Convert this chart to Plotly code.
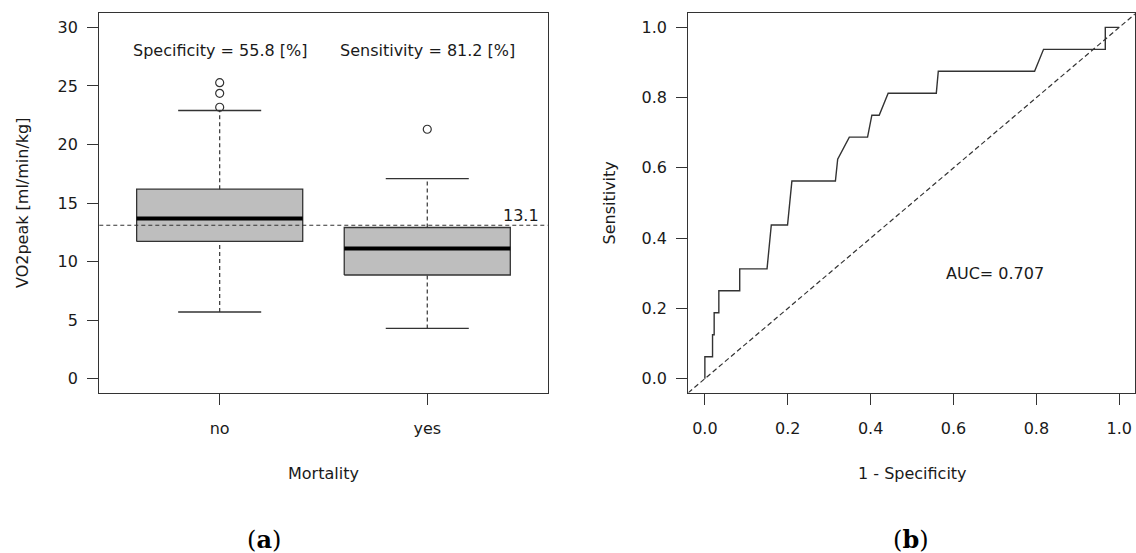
import plotly.graph_objects as go

# ---------------- data ----------------
groups = ["no", "yes"]
group_pos = [1, 2]
q1 = [11.72, 8.85]
median = [13.68, 11.12]
q3 = [16.18, 12.91]
whisker_lo = [5.69, 4.29]
whisker_hi = [22.9, 17.09]
outliers_no = [23.18, 24.37, 25.28]
outliers_yes = [21.3]
cutoff = 13.1
spec_text = "Specificity = 55.8 [%]"
sens_text = "Sensitivity = 81.2 [%]"

roc_fpr = [0, 0, 0.0185, 0.0185, 0.0224, 0.0224, 0.0337, 0.0337, 0.0841, 0.0841,
           0.15, 0.1603, 0.1995, 0.21, 0.315, 0.3205, 0.3486, 0.3926, 0.403, 0.4207,
           0.4423, 0.5585, 0.5633, 0.7957, 0.8173, 0.9663, 0.9663, 1.0]
roc_tpr = [0, 0.0625, 0.0625, 0.125, 0.125, 0.1875, 0.1875, 0.25, 0.25, 0.3125,
           0.3125, 0.4375, 0.4375, 0.5625, 0.5625, 0.625, 0.6875, 0.6875, 0.75, 0.75,
           0.8125, 0.8125, 0.875, 0.875, 0.9375, 0.9375, 1.0, 1.0]
auc_text = "AUC= 0.707"
roc_ticks = [0.0, 0.2, 0.4, 0.6, 0.8, 1.0]
box_ticks = [0, 5, 10, 15, 20, 25, 30]

# ---------------- styling ----------------
FONT = "DejaVu Sans"
TXT = "#1a1a1a"
LINE = "#333333"
FS = 16
BOX_W = 0.8
CAP_W = 0.4

fig = go.Figure()

# box bodies
bx, by = [], []
for p, a, b in zip(group_pos, q1, q3):
    l, r = p - BOX_W / 2, p + BOX_W / 2
    bx += [l, r, r, l, l, None]
    by += [a, a, b, b, a, None]
fig.add_trace(go.Scatter(x=bx, y=by, mode="lines", fill="toself", fillcolor="#bebebe",
                         line=dict(color=LINE, width=1.3), xaxis="x", yaxis="y",
                         hoverinfo="skip", showlegend=False))
# whiskers (dashed)
wx, wy = [], []
for p, a, b, lo, hi in zip(group_pos, q1, q3, whisker_lo, whisker_hi):
    wx += [p, p, None, p, p, None]
    wy += [b, hi, None, lo, a, None]
fig.add_trace(go.Scatter(x=wx, y=wy, mode="lines", line=dict(color=LINE, width=1.2, dash="4px,3px"),
                         xaxis="x", yaxis="y", hoverinfo="skip", showlegend=False))
# caps
cx, cy = [], []
for p, lo, hi in zip(group_pos, whisker_lo, whisker_hi):
    cx += [p - CAP_W / 2, p + CAP_W / 2, None, p - CAP_W / 2, p + CAP_W / 2, None]
    cy += [hi, hi, None, lo, lo, None]
fig.add_trace(go.Scatter(x=cx, y=cy, mode="lines", line=dict(color=LINE, width=1.3),
                         xaxis="x", yaxis="y", hoverinfo="skip", showlegend=False))
# medians
mx, my = [], []
for p, m in zip(group_pos, median):
    mx += [p - BOX_W / 2, p + BOX_W / 2, None]
    my += [m, m, None]
fig.add_trace(go.Scatter(x=mx, y=my, mode="lines", line=dict(color="black", width=4),
                         xaxis="x", yaxis="y", hoverinfo="skip", showlegend=False))
# outliers
ox = [group_pos[0]] * len(outliers_no) + [group_pos[1]] * len(outliers_yes)
oy = outliers_no + outliers_yes
fig.add_trace(go.Scatter(x=ox, y=oy, mode="markers",
                         marker=dict(symbol="circle-open", size=8, color=LINE, line=dict(width=1.2)),
                         xaxis="x", yaxis="y", hoverinfo="skip", showlegend=False))

# ROC curve
fig.add_trace(go.Scatter(x=roc_fpr, y=roc_tpr, mode="lines", line=dict(color=LINE, width=1.4),
                         xaxis="x2", yaxis="y2", hoverinfo="skip", showlegend=False))
# diagonal reference line (abline 0,1)
fig.add_trace(go.Scatter(x=[-0.04, 1.04], y=[-0.04, 1.04], mode="lines",
                         line=dict(color=LINE, width=1.2, dash="5px,3px"),
                         xaxis="x2", yaxis="y2", hoverinfo="skip", showlegend=False))

# cutoff line
fig.add_shape(type="line", xref="x domain", yref="y", x0=0, x1=1, y0=cutoff, y1=cutoff,
              line=dict(color=LINE, width=1.2, dash="4px,3px"))

axis_common = dict(showline=True, mirror=True, linecolor=LINE, linewidth=1.3,
                   ticks="outside", ticklen=11, tickwidth=1.2, tickcolor=LINE,
                   showgrid=False, zeroline=False,
                   tickfont=dict(family=FONT, size=FS, color=TXT))

fig.update_layout(
    width=1136, height=553,
    margin=dict(l=0, r=0, t=0, b=0),
    paper_bgcolor="white", plot_bgcolor="white",
    showlegend=False,
    xaxis=dict(domain=[0.0874, 0.4821], range=[0.42, 2.58], tickvals=group_pos, ticktext=groups,
               anchor="y", ticklabelstandoff=10, **axis_common),
    yaxis=dict(domain=[0.2899, 0.9759], range=[-1.2, 31.2], tickvals=box_ticks,
               anchor="x", ticklabelstandoff=6, **axis_common),
    xaxis2=dict(domain=[0.6059, 0.999], range=[-0.04, 1.0377], tickvals=roc_ticks,
                tickformat=".1f", anchor="y2", ticklabelstandoff=10, **axis_common),
    yaxis2=dict(domain=[0.2899, 0.9759], range=[-0.04, 1.04], tickvals=roc_ticks,
                tickformat=".1f", anchor="x2", ticklabelstandoff=6, **axis_common),
)

tf = dict(family=FONT, size=FS, color=TXT)
C = dict(showarrow=False, xanchor="center", yanchor="middle")
ann = [
    dict(text=spec_text, x=group_pos[0], y=28, xref="x", yref="y", font=tf, **C),
    dict(text=sens_text, x=group_pos[1], y=28, xref="x", yref="y", font=tf, **C),
    dict(text=f"{cutoff:.1f}", x=2.45, y=cutoff, xref="x", yref="y", showarrow=False,
         xanchor="center", yanchor="bottom", font=tf, yshift=-2),
    dict(text=auc_text, x=0.7, y=0.3, xref="x2", yref="y2", font=tf, **C),
    dict(text="VO2peak [ml/min/kg]", x=22 / 1136, y=0.6329, xref="paper", yref="paper",
         textangle=-90, font=tf, **C),
    dict(text="Mortality", x=1.5, y=0.1441, xref="x", yref="paper", font=tf, **C),
    dict(text="Sensitivity", x=609.5 / 1136, y=0.6329, xref="paper", yref="paper",
         textangle=-90, font=tf, **C),
    dict(text="1 - Specificity", x=0.5, y=0.1441, xref="x2", yref="paper", font=tf, **C),
    dict(text="(<b>a</b>)", x=264 / 1136, y=0.0253, xref="paper", yref="paper",
         font=dict(family="DejaVu Serif", size=24, color="black"), **C),
    dict(text="(<b>b</b>)", x=911 / 1136, y=0.0253, xref="paper", yref="paper",
         font=dict(family="DejaVu Serif", size=24, color="black"), **C),
]
fig.update_layout(annotations=ann)

fig.write_html("out.html", config={"displayModeBar": False},
               post_script="document.body.style.margin='0';document.body.style.overflow='hidden';")
